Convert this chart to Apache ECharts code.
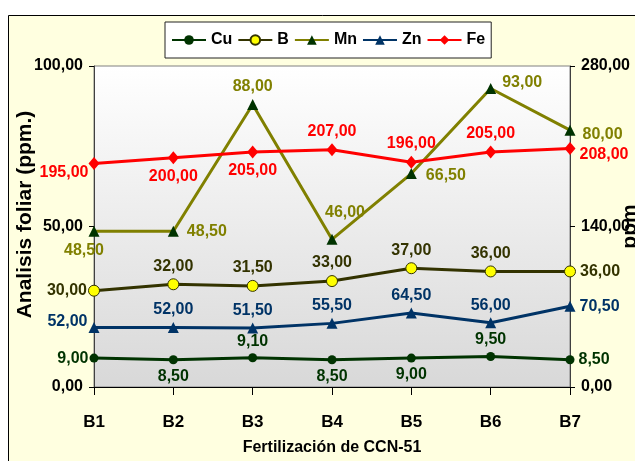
<!DOCTYPE html>
<html>
<head>
<meta charset="utf-8">
<script src="https://cdn.jsdelivr.net/npm/echarts@6/dist/echarts.min.js"></script>
<style>
  html, body { margin: 0; padding: 0; background: #ffffff; }
  #chart { width: 635px; height: 461px; }
</style>
</head>
<body>
<div id="chart"></div>
<script>
// Foliar nutrient analysis by fertilization treatment (CCN-51 cacao)
const categories = ['B1', 'B2', 'B3', 'B4', 'B5', 'B6', 'B7'];

// left axis (0–100 ppm)
const cuValues = [9.0, 8.5, 9.1, 8.5, 9.0, 9.5, 8.5];
const bValues  = [30.0, 32.0, 31.5, 33.0, 37.0, 36.0, 36.0];
const mnValues = [48.5, 48.5, 88.0, 46.0, 66.5, 93.0, 80.0];
// right axis (0–280 ppm)
const znValues = [52.0, 52.0, 51.5, 55.5, 64.5, 56.0, 70.5];
const feValues = [195.0, 200.0, 205.0, 207.0, 196.0, 205.0, 208.0];

const leftTicks  = { min: 0, max: 100, interval: 50 };
const rightTicks = { min: 0, max: 280, interval: 140 };

// where each value label sits relative to its point
const LEFT_TIGHT = { position: 'left', distance: 1 };
const cuLabelPos = [LEFT_TIGHT, 'bottom', 'top', 'bottom', 'bottom', 'top', 'right'];
const bLabelPos  = [LEFT_TIGHT, 'top', 'top', 'top', 'top', 'top', 'right'];
const mnLabelPos = [
  { position: 'bottom', offset: [-10, 2] },
  { position: 'right', distance: 8 },
  { position: 'top' },
  { position: 'top', distance: 13, offset: [13, 0] },
  { position: 'right', distance: 9, offset: [0, 2] },
  { position: 'right', distance: 6, offset: [0, -6] },
  { position: 'right', distance: 7, offset: [0, 4] }
];
const znLabelPos = [
  { position: 'left', distance: 1, offset: [0, -6] },
  'top', 'top', 'top', 'top', 'top', 'right'
];
const feLabelPos = [
  { position: 'left', distance: 0, offset: [0, 9] },
  'bottom', 'bottom', 'top', 'top', 'top',
  { position: 'right', offset: [0, 6] }
];

const FONT = "'Liberation Sans', Arial, sans-serif";

const fmt = v => v.toFixed(2).replace('.', ',');

function buildData(values, positions) {
  return values.map((v, i) => {
    const p = positions[i];
    const lab = typeof p === 'string' ? { position: p } : Object.assign({}, p);
    return { value: v, label: lab };
  });
}

function makeSeries(name, values, positions, opts) {
  return {
    name: name,
    type: 'line',
    yAxisIndex: opts.yAxisIndex,
    data: buildData(values, positions),
    symbol: opts.symbol,
    symbolSize: opts.symbolSize,
    lineStyle: { color: opts.lineColor, width: 3 },
    itemStyle: {
      color: opts.markerColor,
      borderColor: opts.markerBorder || opts.markerColor,
      borderWidth: opts.markerBorder ? 1 : 0
    },
    label: {
      show: true,
      formatter: p => fmt(p.value),
      color: opts.labelColor,
      fontFamily: FONT,
      fontWeight: 'bold',
      fontSize: 16,
      distance: 4
    },
    z: opts.z,
    animation: false
  };
}

const chart = echarts.init(document.getElementById('chart'), null, { renderer: 'canvas' });

chart.setOption({
  backgroundColor: '#ffffff',
  animation: false,
  graphic: [{
    type: 'rect',
    z: -100,
    silent: true,
    shape: { x: 8.5, y: 15.5, width: 700, height: 500 },
    style: { fill: '#FFFFE0', stroke: '#000000', lineWidth: 1 }
  }],
  legend: {
    left: 165,
    top: 22,
    padding: [10, 6, 10, 6],
    backgroundColor: '#ffffff',
    borderColor: '#222222',
    borderWidth: 1,
    itemWidth: 34,
    itemHeight: 12,
    itemGap: 5,
    textStyle: { fontFamily: FONT, fontWeight: 'bold', fontSize: 16, color: '#000000' },
    data: ['Cu', 'B', 'Mn', 'Zn', 'Fe']
  },
  grid: {
    left: 94,
    right: 65,
    top: 66,
    bottom: 74,
    outerBoundsMode: 'none',
    containLabel: false,
    show: true,
    borderColor: '#808080',
    borderWidth: 1,
    backgroundColor: {
      type: 'linear', x: 0, y: 0, x2: 0, y2: 1,
      colorStops: [{ offset: 0, color: '#ffffff' }, { offset: 1, color: '#d8d8d8' }]
    }
  },
  xAxis: {
    type: 'category',
    data: categories,
    boundaryGap: false,
    name: 'Fertilización de CCN-51',
    nameLocation: 'middle',
    nameGap: 53,
    nameMoveOverlap: false,
    nameTextStyle: { fontFamily: FONT, fontWeight: 'bold', fontSize: 16, color: '#000000' },
    axisLine: { lineStyle: { color: '#000000', width: 1 } },
    axisTick: { show: true, length: 8, lineStyle: { color: '#000000' } },
    axisLabel: { margin: 27, fontFamily: FONT, fontWeight: 'bold', fontSize: 17, color: '#000000' },
    splitLine: { show: false }
  },
  yAxis: [{
    type: 'value',
    min: leftTicks.min,
    max: leftTicks.max,
    interval: leftTicks.interval,
    position: 'left',
    name: 'Analisis foliar (ppm.)',
    nameLocation: 'middle',
    nameRotate: 90,
    nameGap: 58,
    nameMoveOverlap: false,
    nameTextStyle: { fontFamily: FONT, fontWeight: 'bold', fontSize: 21, color: '#000000', padding: [0, 0, 0, 24] },
    axisLine: { show: true, lineStyle: { color: '#404040', width: 1 } },
    axisTick: { show: true, length: 5, lineStyle: { color: '#000000' } },
    axisLabel: { margin: 11, formatter: v => fmt(v), fontFamily: FONT, fontWeight: 'bold', fontSize: 16, color: '#000000' },
    splitLine: { show: false }
  }, {
    type: 'value',
    min: rightTicks.min,
    max: rightTicks.max,
    interval: rightTicks.interval,
    position: 'right',
    name: 'ppm',
    nameLocation: 'middle',
    nameRotate: 90,
    nameGap: 50,
    nameMoveOverlap: false,
    nameTextStyle: { fontFamily: FONT, fontWeight: 'bold', fontSize: 21, color: '#000000' },
    axisLine: { show: true, lineStyle: { color: '#404040', width: 1 } },
    axisTick: { show: true, length: 5, lineStyle: { color: '#000000' } },
    axisLabel: { margin: 11, formatter: v => fmt(v), fontFamily: FONT, fontWeight: 'bold', fontSize: 16, color: '#000000' },
    splitLine: { show: false }
  }],
  series: [
    makeSeries('Cu', cuValues, cuLabelPos, {
      yAxisIndex: 0, symbol: 'circle', symbolSize: 9,
      lineColor: '#003300', markerColor: '#003300', labelColor: '#003300', z: 5
    }),
    makeSeries('B', bValues, bLabelPos, {
      yAxisIndex: 0, symbol: 'circle', symbolSize: 11,
      lineColor: '#333300', markerColor: '#FFFF00', markerBorder: '#333300', labelColor: '#333300', z: 4
    }),
    makeSeries('Mn', mnValues, mnLabelPos, {
      yAxisIndex: 0, symbol: 'triangle', symbolSize: 11,
      lineColor: '#808000', markerColor: '#003300', labelColor: '#808000', z: 3
    }),
    makeSeries('Zn', znValues, znLabelPos, {
      yAxisIndex: 1, symbol: 'triangle', symbolSize: 11,
      lineColor: '#003366', markerColor: '#003366', labelColor: '#003366', z: 4
    }),
    makeSeries('Fe', feValues, feLabelPos, {
      yAxisIndex: 1, symbol: 'diamond', symbolSize: [11, 13],
      lineColor: '#FF0000', markerColor: '#FF0000', labelColor: '#FF0000', z: 5
    })
  ]
});
</script>
</body>
</html>
